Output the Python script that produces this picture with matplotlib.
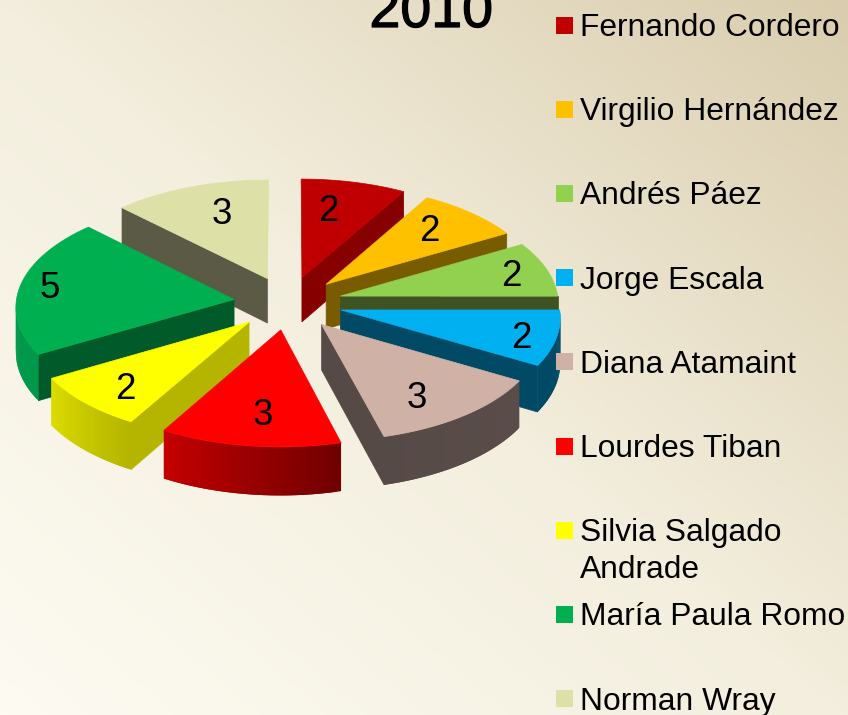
import numpy as np
import matplotlib
matplotlib.use('Agg')
import matplotlib.pyplot as plt
import matplotlib.patheffects as pe
from matplotlib.colors import LinearSegmentedColormap, to_rgb
from matplotlib.patches import Polygon, Rectangle

plt.rcParams['font.family'] = ['Liberation Sans', 'DejaVu Sans']

title = '2010'
names = ['Fernando Cordero', 'Virgilio Hernández', 'Andrés Páez', 'Jorge Escala', 'Diana Atamaint',
         'Lourdes Tiban', 'Silvia Salgado\nAndrade', 'María Paula Romo', 'Norman Wray']
values = [2, 2, 2, 2, 3, 3, 2, 5, 3]

top_colors = ['#C00000', '#FFC000', '#92D050', '#00B0F0', '#CFB1A5', '#FF0000', '#FFFF00', '#00B050', '#DDE1A8']
wall_colors = ['#870000', '#7A5C00', '#3E5222', '#004A66', '#564A47', '#700000', '#B5B500', '#005A2A', '#5A5A45']
rim_start = ['#870000', '#7A5C00', '#3E5222', '#004A66', '#5A4D49', '#700000', '#B5B500', '#00984A', '#5A5A45']
rim_end = ['#870000', '#7A5C00', '#3E5222', '#004A66', '#564A47', '#C40000', '#DCDC00', '#00984A', '#5A5A45']
label_radius = [0.67, 0.72, 0.82, 0.85, 0.77, 0.75, 0.80, 0.86, 0.68]
label_angle = [11, 44, 77, 108, 148, 186, 222, 277, 341]

# projection of the tilted pie, in pixels
cx, cy = 288, 303
rx, ry = 218, 107
explode = 0.25
persp = 0.058
depth = 45


def project(px, py, z=0.0):
    s = 1 / (1 + persp * py)
    return cx + rx * px * s, cy - ry * py * s + z * s


def wedge_xy(theta, apex, r=1.0):
    t = np.radians(theta)
    return apex[0] + r * np.sin(t), apex[1] + r * np.cos(t)


fig = plt.figure(figsize=(8.48, 7.15), dpi=100)
ax = fig.add_axes([0, 0, 1, 1])
ax.set_xlim(0, 848)
ax.set_ylim(715, 0)
ax.axis('off')

# background, light bottom left to tan top right
yy, xx = np.mgrid[0:1:200j, 0:1:200j]
grad = (xx + (1 - yy)) / 2
bg = LinearSegmentedColormap.from_list('bg', ['#FDFBF2', '#F3EEDD', '#DACDAE'])
ax.imshow(grad, cmap=bg, extent=(0, 848, 715, 0), aspect='auto', vmin=0, vmax=1, zorder=0)

edges = np.concatenate([[0], np.cumsum(values)]) * 360 / sum(values)
mids = (edges[:-1] + edges[1:]) / 2
order = np.argsort(-np.cos(np.radians(mids)))

z = 1
for i in order:
    a0, a1, mid = edges[i], edges[i + 1], mids[i]
    apex = (explode * np.sin(np.radians(mid)), explode * np.cos(np.radians(mid)))

    # radial walls that face the viewer
    wall_angles = []
    if np.sin(np.radians(a0)) < -1e-6:
        wall_angles.append(a0)
    if np.sin(np.radians(a1)) > 1e-6:
        wall_angles.append(a1)
    for a in wall_angles:
        rim = wedge_xy(a, apex)
        pts = [project(*apex), project(*rim), project(*rim, depth), project(*apex, depth)]
        ax.add_patch(Polygon(pts, closed=True, fc=wall_colors[i], ec=wall_colors[i], lw=0.5, zorder=z))
        z += 1

    # outer rim, only the front half shows
    lo, hi = max(a0, 90), min(a1, 270)
    if hi > lo:
        steps = np.linspace(lo, hi, 41)
        c0, c1 = np.array(to_rgb(rim_start[i])), np.array(to_rgb(rim_end[i]))
        for k in range(len(steps) - 1):
            # each strip runs under the next one so no seams show
            p0 = wedge_xy(steps[k], apex)
            mid_strip = wedge_xy(steps[min(k + 1, 40)], apex)
            p1 = wedge_xy(steps[min(k + 2, 40)], apex)
            col = c0 + (c1 - c0) * (k / (len(steps) - 2))
            pts = [project(*p0), project(*mid_strip), project(*p1),
                   project(*p1, depth), project(*mid_strip, depth), project(*p0, depth)]
            ax.add_patch(Polygon(pts, closed=True, fc=col, ec='none', zorder=z))
            z += 0.01
        z += 1

    # top face
    arc = np.linspace(a0, a1, 50)
    pts = [project(*apex)] + [project(*wedge_xy(a, apex)) for a in arc]
    ax.add_patch(Polygon(pts, closed=True, fc=top_colors[i], ec=top_colors[i], lw=0.5, zorder=z))
    z += 1

for i, v in enumerate(values):
    apex = (explode * np.sin(np.radians(mids[i])), explode * np.cos(np.radians(mids[i])))
    lx, ly = project(*wedge_xy(label_angle[i], apex, label_radius[i]))
    ax.text(lx, ly, str(v), fontsize=26.5, ha='center', va='center', color='black', zorder=100)

ax.text(431, 27, title, fontsize=40, ha='center', va='baseline', color='black', zorder=100,
        path_effects=[pe.withStroke(linewidth=0.9, foreground='black')])

# legend
for i, name in enumerate(names):
    y = 25 + i * 84.2
    ax.add_patch(Rectangle((556, y - 8.5), 17, 17, fc=top_colors[i], ec='none', zorder=100))
    for j, line in enumerate(name.split('\n')):
        ax.text(580, y + 11 + j * 37, line, fontsize=22.9, ha='left', va='baseline', color='black', zorder=100)

fig.savefig('out.png', dpi=100)
